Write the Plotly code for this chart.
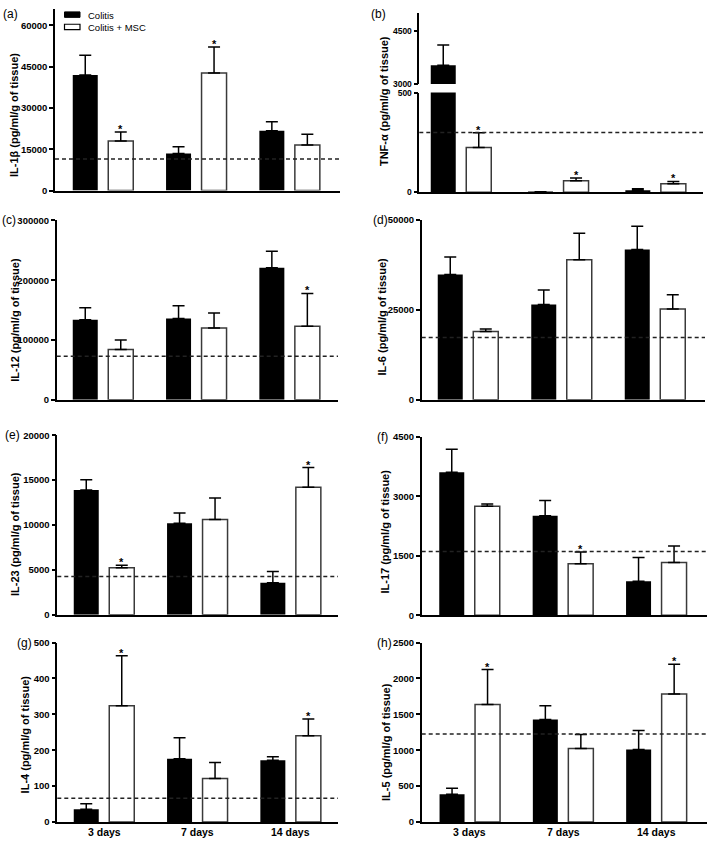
import plotly.graph_objects as go

# ---------------- data ----------------
days = ["3 days", "7 days", "14 days"]

il1b_colitis = [42000, 13500, 21700]
il1b_colitis_err = [7200, 2400, 3300]
il1b_msc = [18000, 42700, 16600]
il1b_msc_err = [3300, 9500, 3900]
il1b_sig = [True, True, False]
il1b_control = 11500

tnf_colitis = [3530, 3, 10]
tnf_colitis_err = [570, 0, 8]
tnf_msc = [225, 58, 43]
tnf_msc_err = [74, 13, 11]
tnf_sig = [True, True, True]
tnf_control = 300

il12_colitis = [134000, 136000, 221000]
il12_colitis_err = [20000, 21500, 27500]
il12_msc = [84000, 120000, 123000]
il12_msc_err = [16000, 25000, 55000]
il12_sig = [False, False, True]
il12_control = 73000

il6_colitis = [34800, 26500, 41800]
il6_colitis_err = [4900, 4000, 6400]
il6_msc = [19000, 38900, 25200]
il6_msc_err = [650, 7400, 4000]
il6_sig = [False, False, False]
il6_control = 17300

il23_colitis = [13900, 10200, 3560]
il23_colitis_err = [1150, 1150, 1250]
il23_msc = [5220, 10600, 14200]
il23_msc_err = [280, 2400, 2200]
il23_sig = [True, False, True]
il23_control = 4260

il17_colitis = [3610, 2510, 860]
il17_colitis_err = [580, 390, 600]
il17_msc = [2750, 1300, 1330]
il17_msc_err = [60, 300, 420]
il17_sig = [False, True, False]
il17_control = 1610

il4_colitis = [35, 176, 172]
il4_colitis_err = [16, 59, 10]
il4_msc = [324, 121, 240]
il4_msc_err = [139, 45, 47]
il4_sig = [True, False, True]
il4_control = 66

il5_colitis = [385, 1427, 1010]
il5_colitis_err = [83, 192, 265]
il5_msc = [1637, 1024, 1784]
il5_msc_err = [487, 196, 413]
il5_sig = [True, False, True]
il5_control = 1224

ticks_a = [0, 15000, 30000, 45000, 60000]
ticks_b_low = [0, 500]
ticks_b_up = [3000, 4500]
ticks_c = [0, 100000, 200000, 300000]
ticks_d = [0, 25000, 50000]
ticks_e = [0, 5000, 10000, 15000, 20000]
ticks_f = [0, 1500, 3000, 4500]
ticks_g = [0, 100, 200, 300, 400, 500]
ticks_h = [0, 500, 1000, 1500, 2000, 2500]

# ---------------- layout geometry (pixels) ----------------
W, H = 709, 844
FONT = "Liberation Sans, Arial, sans-serif"


def fx(px):
    return px / W


def fy(py):
    return 1 - py / H


panels = [
    dict(lab="(a)", xi="", yi="", ax=55, xe=340, c0=103, sp=93.3, yt=3, yb=187, yr=[0, 66000], ticks=ticks_a,
         col=il1b_colitis, cole=il1b_colitis_err, msc=il1b_msc, msce=il1b_msc_err, sig=il1b_sig,
         ctrl=il1b_control, title="IL-1β (pg/ml/g of tissue)", tx=13.5, ty=111, lx=10, ly=8),
    dict(lab="(b)", xi="2", yi="2", ax=419.3, xe=703, c0=461, sp=97.3, yt=87.7, yb=188.7, yr=[0, 500],
         ticks=ticks_b_low, col=tnf_colitis, cole=tnf_colitis_err, msc=tnf_msc, msce=tnf_msc_err, sig=tnf_sig,
         ctrl=tnf_control, title="TNF-α (pg/ml/g of tissue)", tx=383.3, ty=96, lx=379, ly=8),
    dict(lab="(c)", xi="3", yi="3", ax=56.7, xe=338, c0=103, sp=93.3, yt=217.3, yb=399, yr=[0, 300000],
         ticks=ticks_c, col=il12_colitis, cole=il12_colitis_err, msc=il12_msc, msce=il12_msc_err, sig=il12_sig,
         ctrl=il12_control, title="IL-12 (pg/ml/g of tissue)", tx=15, ty=318, lx=9, ly=217),
    dict(lab="(d)", xi="4", yi="4", ax=421.7, xe=705, c0=468, sp=93.5, yt=216.7, yb=399, yr=[0, 50000],
         ticks=ticks_d, col=il6_colitis, cole=il6_colitis_err, msc=il6_msc, msce=il6_msc_err, sig=il6_sig,
         ctrl=il6_control, title="IL-6 (pg/ml/g of tissue)", tx=381.7, ty=315, lx=380, ly=217),
    dict(lab="(e)", xi="5", yi="5", ax=57.3, xe=338, c0=104, sp=93.3, yt=435, yb=616.7, yr=[0, 20000],
         ticks=ticks_e, col=il23_colitis, cole=il23_colitis_err, msc=il23_msc, msce=il23_msc_err, sig=il23_sig,
         ctrl=il23_control, title="IL-23 (pg/ml/g of tissue)", tx=15, ty=535, lx=12, ly=435),
    dict(lab="(f)", xi="6", yi="6", ax=421.7, xe=707, c0=469.5, sp=93.4, yt=436.7, yb=617.3, yr=[0, 4500],
         ticks=ticks_f, col=il17_colitis, cole=il17_colitis_err, msc=il17_msc, msce=il17_msc_err, sig=il17_sig,
         ctrl=il17_control, title="IL-17 (pg/ml/g of tissue)", tx=385, ty=532.5, lx=382, ly=437),
    dict(lab="(g)", xi="7", yi="7", ax=57.3, xe=338, c0=104, sp=93.3, yt=645, yb=826.7, yr=[0, 500],
         ticks=ticks_g, col=il4_colitis, cole=il4_colitis_err, msc=il4_msc, msce=il4_msc_err, sig=il4_sig,
         ctrl=il4_control, title="IL-4 (pg/ml/g of tissue)", tx=25, ty=738, lx=24, ly=645),
    dict(lab="(h)", xi="8", yi="8", ax=421.7, xe=707, c0=469.8, sp=93.3, yt=645, yb=826.7, yr=[0, 2500],
         ticks=ticks_h, col=il5_colitis, cole=il5_colitis_err, msc=il5_msc, msce=il5_msc_err, sig=il5_sig,
         ctrl=il5_control, title="IL-5 (pg/ml/g of tissue)", tx=386.7, ty=746, lx=384, ly=645),
]

BAR_PX = 25
GAP_PX = 10.5

fig = go.Figure()
layout = dict(
    width=W, height=H, margin=dict(l=0, r=0, t=0, b=0),
    paper_bgcolor="white", plot_bgcolor="white",
    showlegend=False, barmode="overlay",
    font=dict(family=FONT, color="black"),
)
shapes = []
annotations = []
cats = [0, 1, 2]


def yaxis_style(domain, rng, ticks, anchor, size=9.5):
    return dict(domain=domain, range=rng, tickvals=ticks, ticktext=[str(t) for t in ticks],
                showline=True, linecolor="black", linewidth=1.5, ticks="outside", ticklen=4,
                tickwidth=1.5, tickcolor="black", showgrid=False, zeroline=False,
                tickfont=dict(family=FONT, size=size, color="black", weight="bold"),
                anchor=anchor, fixedrange=True)


for i, p in enumerate(panels):
    xname = "x" + p["xi"]
    yname = "y" + p["yi"]
    xkey = "xaxis" + p["xi"]
    ykey = "yaxis" + p["yi"]
    sp = p["sp"]
    w = BAR_PX / sp
    g = GAP_PX / sp
    off_col = -g / 2 - w
    off_msc = g / 2
    r0 = (p["ax"] - p["c0"]) / sp
    r1 = (p["xe"] - p["c0"]) / sp
    bottom_row = p["lab"] in ("(g)", "(h)")
    is_b = p["lab"] == "(b)"
    layout[xkey] = dict(domain=[fx(p["ax"]), fx(p["xe"])], range=[r0, r1], showline=True,
                        linecolor="black", linewidth=1.5, ticks="", showgrid=False, zeroline=False,
                        tickvals=cats, showticklabels=False,
                        anchor=yname, fixedrange=True)
    layout[ykey] = yaxis_style([fy(p["yb"]), fy(p["yt"])], p["yr"], p["ticks"], xname,
                               size=8.5 if is_b else 9.5)

    yaxes = [yname]
    if is_b:
        layout["yaxis9"] = yaxis_style([fy(79), fy(7)], [3000, 5000], ticks_b_up, xname, size=8.5)
        yaxes.append("y9")

    for ya in yaxes:
        fig.add_trace(go.Bar(
            x=cats, y=p["col"], width=w, offset=off_col, xaxis=xname, yaxis=ya,
            marker=dict(color="black", line=dict(color="black", width=0)),
            error_y=dict(type="data", array=p["cole"], arrayminus=[0] * 3, symmetric=False,
                         color="black", thickness=1.5, width=6),
            name="Colitis"))
        fig.add_trace(go.Bar(
            x=cats, y=p["msc"], width=w, offset=off_msc, xaxis=xname, yaxis=ya,
            marker=dict(color="white", line=dict(color="#3a3a3a", width=1.5)),
            error_y=dict(type="data", array=p["msce"], arrayminus=[0] * 3, symmetric=False,
                         color="black", thickness=1.5, width=6),
            name="Colitis + MSC"))

    # significance asterisks above the MSC error bars
    for c, m, e, s in zip(cats, p["msc"], p["msce"], p["sig"]):
        if s:
            annotations.append(dict(text="*", x=c + off_msc + w / 2, y=m + e, xref=xname, yref=yname,
                                    showarrow=False, xanchor="center", yanchor="bottom", yshift=-5,
                                    font=dict(family=FONT, size=11, color="black", weight="bold")))

    # control level (dashed)
    shapes.append(dict(type="line", xref=xname + " domain", yref=yname, x0=0, x1=1,
                       y0=p["ctrl"], y1=p["ctrl"],
                       line=dict(color="#222222", width=1.5, dash="4px,3px")))

    if bottom_row:
        for c, d in zip(cats, days):
            annotations.append(dict(text=d, x=c, y=0, xref=xname, yref=yname + " domain",
                                    showarrow=False, xanchor="center", yanchor="middle", yshift=-10.5,
                                    font=dict(family=FONT, size=10.5, color="black", weight="bold")))

    annotations.append(dict(text=p["title"], x=fx(p["tx"]), y=fy(p["ty"]), xref="paper", yref="paper",
                            showarrow=False, textangle=-90, xanchor="center", yanchor="middle",
                            font=dict(family=FONT, size=11, color="black", weight="bold")))
    annotations.append(dict(text=p["lab"], x=fx(p["lx"]), y=fy(p["ly"]), xref="paper", yref="paper",
                            showarrow=False, xanchor="center", yanchor="middle",
                            font=dict(family=FONT, size=12, color="black")))

# legend (panel a)
shapes.append(dict(type="rect", xref="paper", yref="paper", x0=fx(64.5), x1=fx(80), y0=fy(11.5), y1=fy(6),
                   fillcolor="black", line=dict(color="black", width=1)))
shapes.append(dict(type="rect", xref="paper", yref="paper", x0=fx(64.5), x1=fx(80), y0=fy(24), y1=fy(18.5),
                   fillcolor="white", line=dict(color="black", width=1.2)))
annotations.append(dict(text="Colitis", x=fx(86), y=fy(9.5), xref="paper", yref="paper", showarrow=False,
                        xanchor="left", yanchor="middle", font=dict(family=FONT, size=9.5, color="black")))
annotations.append(dict(text="Colitis + MSC", x=fx(86), y=fy(21.5), xref="paper", yref="paper",
                        showarrow=False, xanchor="left", yanchor="middle",
                        font=dict(family=FONT, size=9.5, color="black")))

layout["shapes"] = shapes
layout["annotations"] = annotations
fig.update_layout(**layout)

fig.write_html("out.html", config={"displayModeBar": False},
               post_script="document.body.style.margin='0';document.body.style.overflow='hidden';")
